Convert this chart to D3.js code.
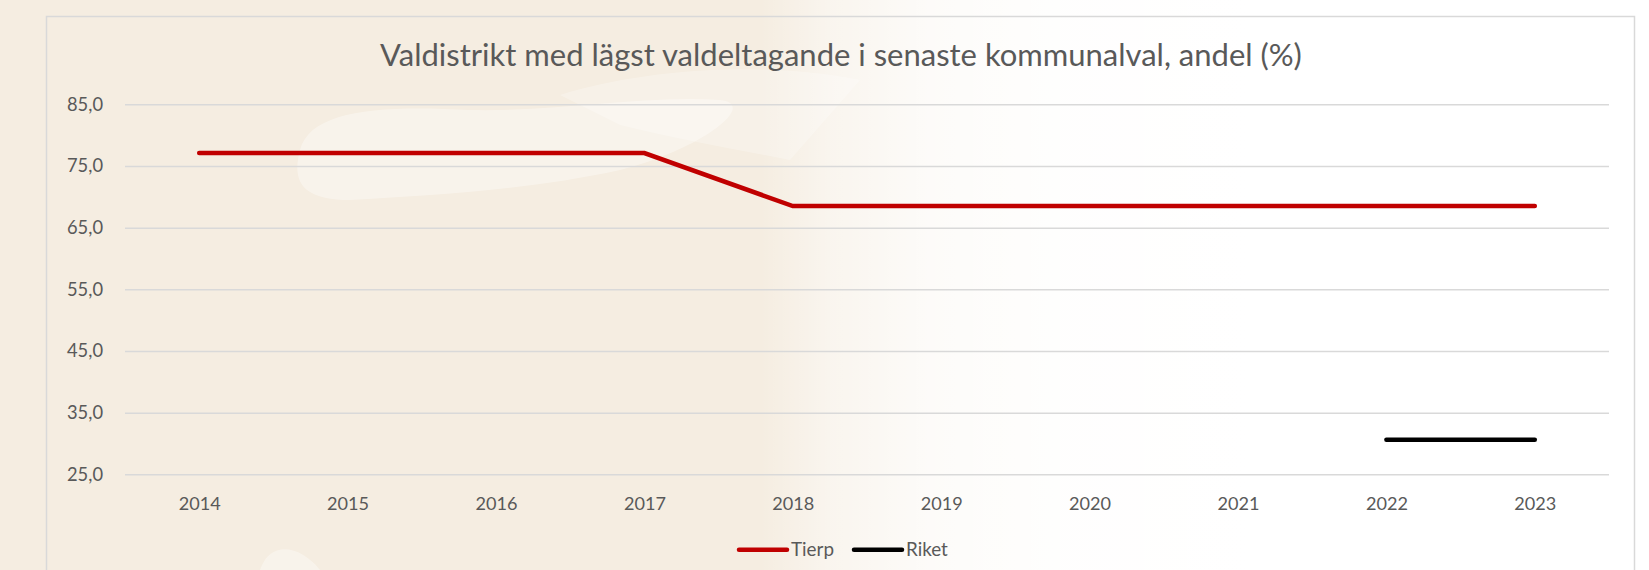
<!DOCTYPE html>
<html>
<head>
<meta charset="utf-8">
<script src="https://cdn.jsdelivr.net/npm/d3@7"></script>
<style>
  html, body { margin: 0; padding: 0; background: #F5EDE1; }
  svg { display: block; }
</style>
</head>
<body>
<svg id="chart" width="1649" height="570"></svg>
<script>
// ---- data ----
const years = ["2014","2015","2016","2017","2018","2019","2020","2021","2022","2023"];
const tierp = [77.1, 77.1, 77.1, 77.1, 68.5, 68.5, 68.5, 68.5, 68.5, 68.5];
const riket = [null, null, null, null, null, null, null, null, 30.6, 30.6];
const yTicks = [25, 35, 45, 55, 65, 75, 85];
const seriesNames = ["Tierp", "Riket"];
const titleText = "Valdistrikt med lägst valdeltagande i senaste kommunalval, andel (%)";

// ---- setup ----
const W = 1649, H = 570;
const svg = d3.select("#chart");
const FONT = "Lato, 'Open Sans', sans-serif";
const TEXT = "#595959";
const GRID = "#D9D9D9";

function fitSize(str, targetW, family) {
  const t = svg.append("text").attr("font-family", family).attr("font-size", 100).text(str);
  const w = t.node().getComputedTextLength();
  t.remove();
  return 100 * targetW / w;
}

// ---- background ----
const defs = svg.append("defs");
const fade = defs.append("linearGradient").attr("id", "fade")
  .attr("gradientUnits", "userSpaceOnUse").attr("x1", 0).attr("y1", 0).attr("x2", W).attr("y2", 0);
[[0, 0], [760, 0], [830, 0.45], [930, 0.8], [1060, 0.95], [1250, 1], [W, 1]].forEach(([x, o]) => {
  fade.append("stop").attr("offset", x / W).attr("stop-color", "#FFFFFF").attr("stop-opacity", o);
});
svg.append("rect").attr("width", W).attr("height", H).attr("fill", "#F5EDE1");
// soft light swoosh shapes (watermark)
svg.append("path")
  .attr("d", "M300,150 C310,110 380,105 470,110 C560,112 640,95 720,100 C760,104 700,150 620,170 C530,190 430,195 350,200 C300,200 292,180 300,150 Z")
  .attr("fill", "#FFFFFF").attr("opacity", 0.35);
svg.append("path")
  .attr("d", "M560,95 C640,70 760,60 860,80 L790,160 C740,150 680,140 620,125 Z")
  .attr("fill", "#FFFFFF").attr("opacity", 0.25);
svg.append("path")
  .attr("d", "M260,570 C270,540 300,545 320,570 Z")
  .attr("fill", "#FFFFFF").attr("opacity", 0.35);
svg.append("rect").attr("width", W).attr("height", H).attr("fill", "url(#fade)");

// frame
svg.append("rect")
  .attr("x", 46.5).attr("y", 16.5).attr("width", 1588).attr("height", 620)
  .attr("fill", "none").attr("stroke", GRID).attr("stroke-width", 1.5);

// ---- scales ----
const x = d3.scalePoint().domain(years).range([125, 1609]).padding(0.5);
const y = d3.scaleLinear().domain([25, 85]).range([474.3, 104.3]);
const loc = d3.formatLocale({ decimal: ",", thousands: " ", grouping: [3], currency: ["", " kr"] });
const fmt = loc.format(".1f");

// ---- title ----
const titleSize = fitSize(titleText, 922, FONT);
svg.append("text")
  .attr("x", 841).attr("y", 66)
  .attr("text-anchor", "middle")
  .attr("font-family", FONT).attr("font-size", titleSize)
  .attr("fill", TEXT).text(titleText);

// ---- y axis + grid ----
const ySize = fitSize(fmt(85), 36, FONT);
const yAxis = svg.append("g").attr("transform", "translate(125,0)")
  .call(d3.axisLeft(y).tickValues(yTicks).tickFormat(fmt).tickSize(-1484).tickPadding(22));
yAxis.select(".domain").remove();
yAxis.selectAll(".tick line").attr("stroke", GRID).attr("stroke-width", 1.5);
yAxis.selectAll(".tick text").attr("fill", TEXT).attr("font-family", FONT).attr("font-size", ySize);

// ---- x axis ----
const xSize = fitSize("2014", 42, FONT);
const xAxis = svg.append("g").attr("transform", "translate(0,474.3)")
  .call(d3.axisBottom(x).tickSize(0).tickPadding(0));
xAxis.select(".domain").remove();
xAxis.selectAll(".tick text").attr("y", 29).attr("dy", "0.35em")
  .attr("fill", TEXT).attr("font-family", FONT).attr("font-size", xSize);

// ---- lines ----
const line = d3.line()
  .defined(d => d.v != null)
  .x(d => x(d.k)).y(d => y(d.v));
const seriesData = [
  { name: seriesNames[0], color: "#C00000", values: years.map((k, i) => ({ k, v: tierp[i] })) },
  { name: seriesNames[1], color: "#000000", values: years.map((k, i) => ({ k, v: riket[i] })) }
];
svg.append("g").selectAll("path").data(seriesData).join("path")
  .attr("d", d => line(d.values))
  .attr("fill", "none")
  .attr("stroke", d => d.color)
  .attr("stroke-width", 4.5)
  .attr("stroke-linecap", "round")
  .attr("stroke-linejoin", "miter");

// ---- legend ----
const legSize = fitSize("Tierp", 43, FONT);
const legX = [739, 854];
const leg = svg.append("g").selectAll("g").data(seriesData).join("g")
  .attr("transform", (d, i) => `translate(${legX[i]},549.7)`);
leg.append("line").attr("x1", 0).attr("x2", 48).attr("y1", 0).attr("y2", 0)
  .attr("stroke", d => d.color).attr("stroke-width", 4.5).attr("stroke-linecap", "round");
leg.append("text").attr("x", 52).attr("y", 0).attr("dy", "0.35em")
  .attr("font-family", FONT).attr("font-size", legSize).attr("fill", TEXT)
  .text(d => d.name);
</script>
</body>
</html>
